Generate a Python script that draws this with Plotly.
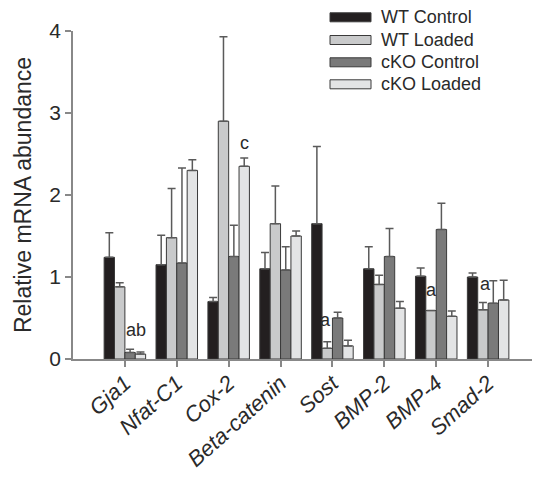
import plotly.graph_objects as go

categories = ["Gja1", "Nfat-C1", "Cox-2", "Beta-catenin", "Sost", "BMP-2", "BMP-4", "Smad-2"]
series_names = ["WT Control", "WT Loaded", "cKO Control", "cKO Loaded"]

wt_control = [1.24, 1.15, 0.70, 1.10, 1.65, 1.10, 1.01, 1.00]
wt_control_err = [0.30, 0.36, 0.05, 0.20, 0.94, 0.27, 0.10, 0.05]
wt_loaded = [0.88, 1.48, 2.90, 1.65, 0.13, 0.91, 0.59, 0.60]
wt_loaded_err = [0.05, 0.60, 1.03, 0.46, 0.08, 0.11, 0.0, 0.09]
cko_control = [0.08, 1.17, 1.25, 1.085, 0.50, 1.25, 1.58, 0.68]
cko_control_err = [0.04, 1.16, 0.38, 0.285, 0.07, 0.34, 0.32, 0.275]
cko_loaded = [0.06, 2.30, 2.35, 1.50, 0.16, 0.62, 0.52, 0.72]
cko_loaded_err = [0.025, 0.13, 0.10, 0.06, 0.07, 0.08, 0.065, 0.24]

values = [wt_control, wt_loaded, cko_control, cko_loaded]
errors = [wt_control_err, wt_loaded_err, cko_control_err, cko_loaded_err]
colors = ["#231f20", "#c9cacb", "#7a7a7a", "#e3e4e5"]

letters = ["ab", "c", "a", "a", "a"]
letter_cats = ["Gja1", "Cox-2", "Sost", "BMP-4", "Smad-2"]
letter_series = [2.6, 3.0, 0.85, 1.0, 1.2]
letter_y = [0.35, 2.63, 0.47, 0.84, 0.91]

y_ticks = [0, 1, 2, 3, 4]

FONT = "Liberation Sans, Arial, sans-serif"
fig = go.Figure()
for name, vals, errs, col in zip(series_names, values, errors, colors):
    fig.add_trace(go.Bar(
        x=categories, y=vals, name=name,
        marker=dict(color=col, line=dict(color="#3a3a3a", width=1)),
        error_y=dict(type="data", array=errs, arrayminus=[0] * len(errs), symmetric=False,
                     color="#5a5a5a", thickness=1.5, width=4),
        showlegend=False,
    ))

# page body has an 8px margin; plot area is placed in screen px 73..540 x 31..359
L, W, T, H = 73, 467, 31, 328
def px_x(p):
    return (p - L) / W
def px_y(p):
    return (T + H - p) / H
rows = [17.3, 40, 62.3, 84.3]
for name, col, r in zip(series_names, colors, rows):
    fig.add_shape(type="rect", xref="paper", yref="paper",
                  x0=px_x(330), x1=px_x(371), y0=px_y(r + 4.5), y1=px_y(r - 4.5),
                  fillcolor=col, line=dict(color="#3a3a3a", width=1))
    fig.add_annotation(xref="paper", yref="paper", x=px_x(379), y=px_y(r),
                       text=name, showarrow=False, xanchor="left", yanchor="middle",
                       font=dict(family=FONT, size=18, color="#2a2a2a"))

cat_index = {c: i for i, c in enumerate(categories)}
for t, c, s, yv in zip(letters, letter_cats, letter_series, letter_y):
    fig.add_annotation(x=cat_index[c] + (s - 1.5) * 0.2, y=yv, text=t, showarrow=False,
                       xanchor="center", yanchor="middle",
                       font=dict(family=FONT, size=18, color="#2a2a2a"))

fig.update_layout(
    width=532, height=470,
    margin=dict(l=65, r=0, t=23, b=119),
    plot_bgcolor="white", paper_bgcolor="white",
    barmode="group", bargap=0.2, bargroupgap=0,
    font=dict(family=FONT, color="#2a2a2a"),
)
fig.update_xaxes(
    automargin=False,
    range=[-1, 8], showline=True, linecolor="#888888", linewidth=1.5,
    ticks="outside", ticklen=6, tickcolor="#888888", tickwidth=1.5,
    tickmode="array", tickvals=categories, ticktext=["<i>%s</i>" % c for c in categories],
    tickangle=-42, tickfont=dict(family=FONT, size=22, color="#2a2a2a"),
    ticklabelstandoff=-5,
    showgrid=False, zeroline=False,
)
fig.update_yaxes(
    automargin=False,
    range=[0, 4], showline=True, linecolor="#888888", linewidth=1.5,
    ticks="outside", ticklen=6, tickcolor="#888888", tickwidth=1.5,
    tickvals=y_ticks, tickfont=dict(family=FONT, size=21, color="#2a2a2a"),
    title=dict(text="Relative mRNA abundance", font=dict(family=FONT, size=23, color="#2a2a2a"), standoff=11),
    showgrid=False, zeroline=False,
)
fig.write_html("out.html")
